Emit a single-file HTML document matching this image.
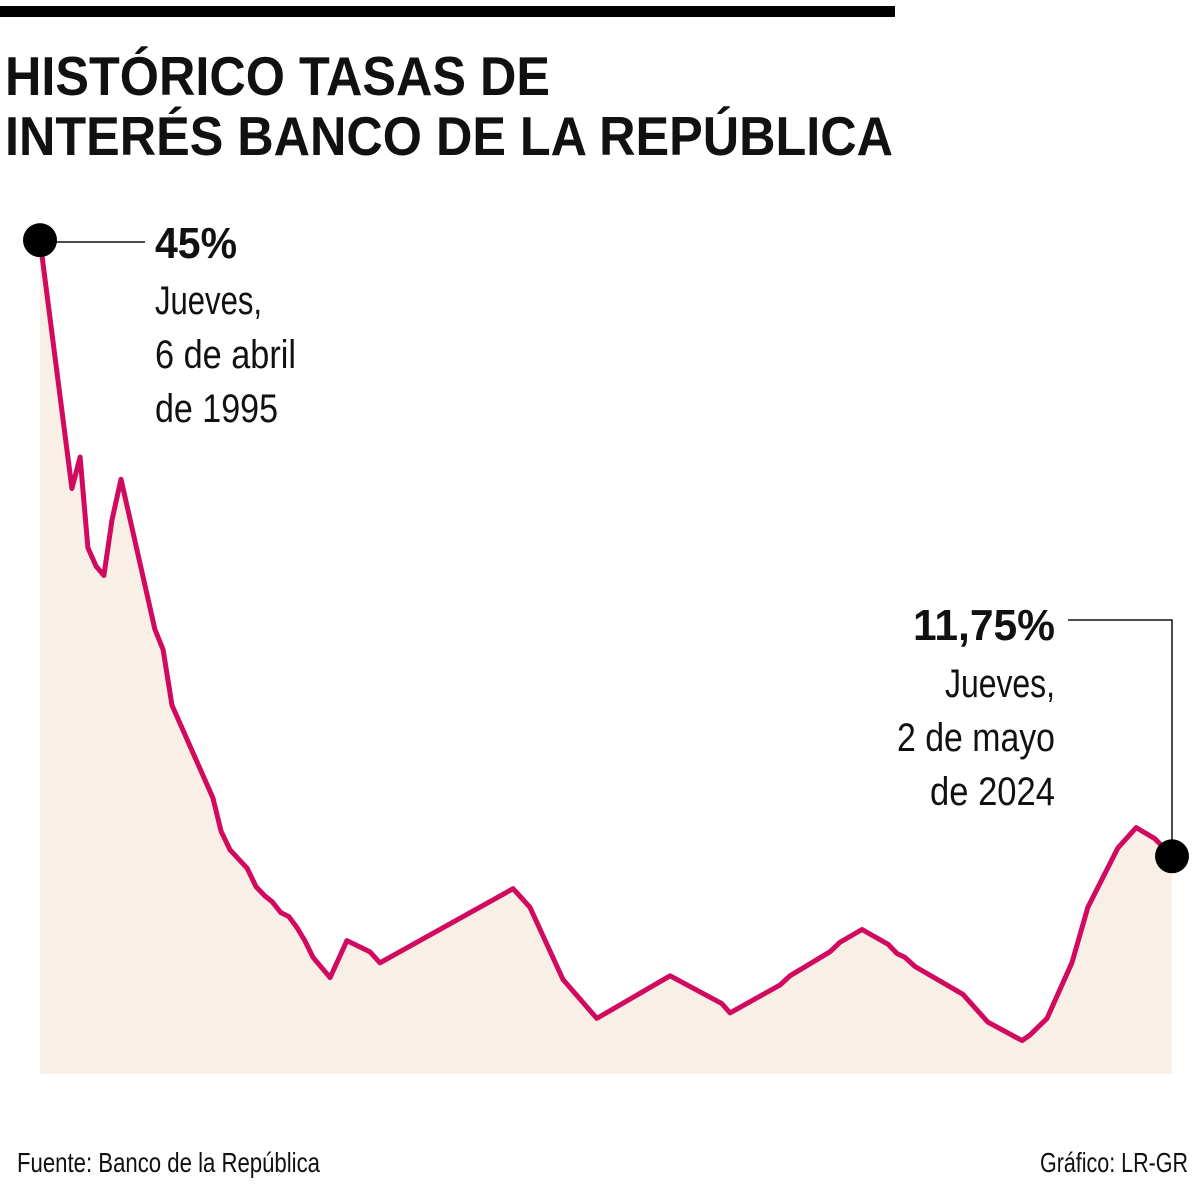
<!DOCTYPE html>
<html><head><meta charset="utf-8"><style>
html,body{margin:0;padding:0;background:#fff;}
svg{display:block;}
text{font-family:"Liberation Sans Narrow","Liberation Sans",sans-serif;fill:#111;}
</style></head><body>
<svg id="chart" width="1200" height="1188" viewBox="0 0 1200 1188">
<rect x="0" y="6" width="895" height="11" fill="#000"/>
<text x="5" y="95" font-size="55" font-weight="bold" textLength="545" lengthAdjust="spacingAndGlyphs">HISTÓRICO TASAS DE</text>
<text x="5" y="155" font-size="55" font-weight="bold" textLength="888" lengthAdjust="spacingAndGlyphs">INTERÉS BANCO DE LA REPÚBLICA</text>
<path id="area" fill="#f8f0e6"/>
<path id="line" fill="none" stroke="#d1095f" stroke-width="5" stroke-linejoin="round"/>
<line x1="40" y1="242" x2="145" y2="242" stroke="#111" stroke-width="1.5"/>
<polyline points="1068,620 1172,620 1172,856" fill="none" stroke="#111" stroke-width="1.5"/>
<circle id="startDot" r="17" fill="#000"/>
<circle id="endDot" r="17" fill="#000"/>
<text x="155" y="258" font-size="44" font-weight="bold" textLength="82" lengthAdjust="spacingAndGlyphs">45%</text>
<text x="155" y="314" font-size="40" textLength="107" lengthAdjust="spacingAndGlyphs">Jueves,</text>
<text x="155" y="368" font-size="40" textLength="141" lengthAdjust="spacingAndGlyphs">6 de abril</text>
<text x="155" y="422" font-size="40" textLength="123" lengthAdjust="spacingAndGlyphs">de 1995</text>
<text x="913" y="640" font-size="44" font-weight="bold" textLength="142" lengthAdjust="spacingAndGlyphs">11,75%</text>
<text x="945" y="697" font-size="40" textLength="110" lengthAdjust="spacingAndGlyphs">Jueves,</text>
<text x="897" y="751" font-size="40" textLength="158" lengthAdjust="spacingAndGlyphs">2 de mayo</text>
<text x="930" y="805" font-size="40" textLength="125" lengthAdjust="spacingAndGlyphs">de 2024</text>
<text x="17" y="1172" font-size="28" textLength="303" lengthAdjust="spacingAndGlyphs">Fuente: Banco de la República</text>
<text x="1040" y="1172" font-size="28" textLength="148" lengthAdjust="spacingAndGlyphs">Gráfico: LR-GR</text>
</svg>
<script>
const years=[1995.26,1996.08,1996.29,1996.49,1996.70,1996.90,1997.11,1997.34,1998.21,1998.42,1998.65,1999.70,1999.91,2000.14,2000.58,2000.81,2001.04,2001.22,2001.45,2001.65,2001.86,2002.06,2002.27,2002.71,2003.14,2003.73,2003.99,2007.41,2007.84,2008.69,2009.56,2011.44,2012.77,2012.98,2014.26,2014.52,2015.55,2015.80,2016.37,2017.04,2017.27,2017.47,2017.73,2018.96,2019.60,2020.48,2020.68,2021.12,2021.76,2022.17,2022.94,2023.41,2023.89,2024.33];
const rates=[45,31.6,33.3,28.4,27.4,26.9,29.9,32.1,24,22.9,19.9,14.9,13.1,12.1,11.1,10.1,9.6,9.3,8.7,8.5,7.9,7.2,6.3,5.2,7.2,6.6,6.0,10.0,9.0,5.1,3.0,5.3,3.8,3.3,4.8,5.3,6.6,7.1,7.8,7.0,6.5,6.3,5.8,4.3,2.8,1.8,2.1,3.0,6.0,9.0,12.2,13.3,12.7,11.75];
const x0=40,x1=1172,yBase=1074,pxPerUnit=18.53;
const yMin=years[0],yMax=years[years.length-1];
function xs(t){return x0+(t-yMin)/(yMax-yMin)*(x1-x0);}
function ys(v){return yBase-v*pxPerUnit;}
let d='';
years.forEach((t,i)=>{d+=(i?'L':'M')+xs(t).toFixed(1)+','+ys(rates[i]).toFixed(1);});
document.getElementById('line').setAttribute('d',d);
document.getElementById('area').setAttribute('d',d+'L'+xs(yMax)+','+yBase+'L'+xs(yMin)+','+yBase+'Z');
const s=document.getElementById('startDot');s.setAttribute('cx',xs(years[0]));s.setAttribute('cy',ys(rates[0]));
const n=years.length-1;const e=document.getElementById('endDot');e.setAttribute('cx',xs(years[n]));e.setAttribute('cy',ys(rates[n]));
</script>
</body></html>
